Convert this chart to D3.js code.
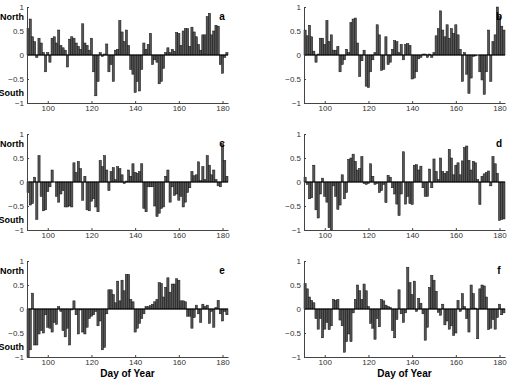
<!DOCTYPE html>
<html>
<head>
<meta charset="utf-8">
<script src="https://cdn.jsdelivr.net/npm/d3@7"></script>
<style>
  body { margin: 0; background: #fff; }
  svg { display: block; font-family: "Liberation Sans", Arial, sans-serif; }
  .tick text { fill: #333; font-size: 8px; }
  .domain, .tick line { stroke: #444; }
</style>
</head>
<body>
<div class="chart-container"></div>
<script>
// day of year 91..182
const days = d3.range(91, 183);

const seriesA = [0.55, 0.75, 0.38, 0.28, -0.05, 0.35, 0.25, 0.05, -0.35, 0.05,
  -0.15, 0.35, 0.38, 0.25, 0.52, 0.2, 0.15, 0.1, -0.25, 0.33,
  0.38, 0.35, 0.25, 0.18, 0.12, 0.65, 0.25, 0.2, 0.1, 0.35,
  -0.35, -0.85, -0.55, 0.05, -0.03, 0.02, 0.23, -0.35, -0.2, -0.55,
  0.1, 0.12, 0.72, 0.48, 0.28, 0.52, 0.2, -0.3, -0.4, -0.78,
  -0.55, -0.75, -0.3, 0.25, 0.12, 0.22, 0.45, -0.2, -0.1, -0.15,
  -0.6, -0.55, -0.28, 0.05, 0.15, 0.05, 0.12, 0.08, 0.47, 0.45,
  0.2, 0.5, 0.55, 0.55, 0.18, 0.58, 0.48, 0.38, 0.22, 0.1,
  0.42, 0.42, 0.8, 0.87, 0.42, 0.5, 0.62, 0.6, -0.2, -0.38,
  -0.05, 0.05];

const seriesB = [0.52, 0.4, 0.62, 0.38, 0.08, -0.15, 0.02, 0.35, 0.35, 0.22,
  0.72, 0.28, 0.42, 0.1, 0.1, 0.18, -0.35, -0.2, -0.1, 0.12,
  0.05, 0.68, 0.75, 0.77, 0.25, -0.45, -0.12, 0.1, -0.65, -0.68,
  -0.35, -0.1, 0.05, 0.63, 0.42, -0.32, -0.3, 0.38, -0.2, -0.15,
  0.12, 0.3, 0.28, 0.05, 0.22, -0.1, 0.22, 0.24, 0.2, -0.5,
  -0.48, -0.35, -0.08, -0.05, 0.02, 0.02, -0.05, 0.02, -0.05, 0.05,
  0.4, 0.55, 0.92, 0.52, 0.38, 0.63, 0.35, 0.55, 0.45, 0.63,
  0.42, 0.12, -0.55, 0.05, -0.4, -0.8, -0.48, -0.03, -0.02, 0,
  -0.35, -0.52, -0.82, -0.35, 0.52, -0.55, 0.28, 0.42, 1.0, 0.8,
  0.6, 0.52];

const seriesC = [-0.22, -0.48, -0.45, 0.1, -0.78, 0.55, -0.3, -0.6, -0.58, -0.2,
  -0.1, 0.25, 0, -0.3, -0.42, -0.25, -0.18, -0.52, -0.52, -0.5,
  -0.52, 0.4, 0.2, 0.43, 0.28, -0.38, 0.12, -0.58, -0.6, -0.4,
  -0.35, -0.52, -0.62, 0.45, 0.32, 0.55, 0.25, -0.18, 0.22, 0.3,
  0.05, 0.32, 0.28, 0.15, -0.03, 0.02, 0.25, 0.12, 0.38, 0.2,
  0.18, 0.22, 0.38, -0.55, -0.62, -0.1, -0.1, -0.1, -0.5, -0.72,
  -0.65, -0.55, -0.52, 0.12, 0.25, -0.42, -0.1, -0.28, -0.25, -0.38,
  -0.3, -0.52, -0.42, -0.22, -0.12, 0.22, 0.13, 0.15, 0.42, 0.03,
  0.32, 0.05, 0.55, 0.35, 0.15, 0.25, 0.05, -0.08, -0.1, 0.8,
  0.45, 0.12];

const seriesD = [0.1, -0.05, -0.35, -0.33, 0.35, -0.58, -0.75, -0.25, 0.08, -0.3,
  -0.42, -0.95, -1.0, -0.08, -0.3, -0.57, -0.48, 0.15, -0.35, -0.22,
  0.47, 0.5, 0.58, 0.43, 0.25, 0.28, 0.53, -0.03, -0.05, -0.03,
  0.38, 0.12, -0.05, -0.03, -0.22, -0.18, -0.05, -0.43, 0.14, 0.1,
  -0.12, -0.25, -0.46, -0.7, -0.25, 0.63, -0.46, -0.3, -0.45, -0.47,
  0.35, 0.36, 0.25, 0.33, -0.12, -0.3, -0.3, 0.27, -0.12, 0.48,
  0.22, 0.05, 0.5, 0.22, 0.18, 0.22, 0.68, 0.5, 0.15, 0.35,
  0.4, 0.15, 0.44, 0.72, 0.75, 0.45, 0.25, 0.43, 0.4, 0.05,
  -0.47, 0.12, 0.17, 0.2, 0.23, -0.08, 0.53, 0.38, 0.18, -0.8,
  -0.78, -0.77];

const seriesE = [-1.0, -0.85, 0.33, -0.75, -0.75, -0.52, -0.45, -0.5, -0.12, -0.38,
  -0.4, -0.48, -0.28, -0.32, 0.05, -0.05, -0.45, -0.58, -0.4, -0.75,
  -0.02, 0.17, -0.12, -0.52, -0.02, -0.48, -0.52, -0.38, -0.2, -0.15,
  -0.12, -0.05, -0.35, -0.25, -0.85, -0.8, -0.1, 0.4, 0.4, 0.3,
  0.13, 0.58, 0.17, 0.6, 0.38, 0.72, 0.72, 0.2, 0.15, -0.48,
  -0.4, -0.3, -0.2, -0.1, 0.05, 0.05, 0.07, 0.1, 0.15, 0.2,
  0.55, 0.53, 0.25, 0.45, 0.65, 0.35, 0.52, 0.52, 0.63, 0.6,
  0.17, 0.17, 0.15, -0.15, -0.15, -0.4, -0.18, 0.08, -0.1, -0.28,
  0.1, 0.05, 0.08, -0.3, -0.05, -0.38, 0.03, 0.18, -0.1, -0.25,
  -0.05, -0.12];

const seriesF = [0.53, 0.42, 0.25, 0.18, 0.13, -0.2, -0.42, -0.2, -0.6, -0.42,
  -0.28, -0.43, -0.35, 0.2, 0.18, 0.2, -0.23, -0.35, -0.9, -0.68,
  -0.52, -0.68, -0.08, 0.2, 0.5, 0.38, 0.2, 0.52, 0.38, 0.05,
  -0.3, -0.4, -0.63, -0.2, -0.37, 0.2, 0.17, 0.08, 0.05, 0.03,
  -0.45, -0.6, -0.22, 0.4, -0.1, -0.28, -0.08, 0.87, 0.55, 0.3,
  0.58, -0.05, 0.22, 0.12, -0.1, -0.65, -0.38, 0.45, 0.7, 0.6,
  0.37, -0.07, -0.13, 0.1, -0.33, -0.25, -0.42, -0.35, -0.55, -0.5,
  0.18, -0.05, 0.32, 0.05, -0.2, -0.48, 0.5, 0.32, 0.02, -0.62,
  0.42, 0.5, 0.48, 0.25, -0.43, -0.4, -0.22, -0.42, -0.18, 0.1,
  -0.12, -0.08];

const panelLetters = ["a", "b", "c", "d", "e", "f"];
const allSeries = [seriesA, seriesB, seriesC, seriesD, seriesE, seriesF];
const xTicks = [100, 120, 140, 160, 180];
const yTicks = [-1, -0.5, 0, 0.5, 1];

const W = 516, H = 379;
const colLeft = [27, 304];
const rowTop = [7, 134, 261];
const pw = 201, ph = 96;

const svg = d3.select(".chart-container")
  .append("svg")
  .attr("width", W)
  .attr("height", H);

const x = d3.scaleLinear().domain([90.5, 182.5]).range([0, pw]);
const y = d3.scaleLinear().domain([-1, 1]).range([ph, 0]);
const barW = x(1) - x(0);

allSeries.forEach((values, i) => {
  const col = i % 2, row = Math.floor(i / 2);
  const g = svg.append("g")
    .attr("transform", `translate(${colLeft[col]}, ${rowTop[row]})`);

  g.selectAll("rect")
    .data(days.map((d, k) => ({ day: d, v: values[k] })))
    .join("rect")
    .attr("x", d => x(d.day - 0.5))
    .attr("width", barW)
    .attr("y", d => y(Math.max(0, d.v)))
    .attr("height", d => Math.abs(y(d.v) - y(0)))
    .attr("fill", "#555")
    .attr("stroke", "#111")
    .attr("stroke-width", 0.5);

  // zero line
  g.append("line")
    .attr("x1", 0).attr("x2", pw)
    .attr("y1", y(0)).attr("y2", y(0))
    .attr("stroke", "#000")
    .attr("stroke-width", 1);

  const xAxis = d3.axisBottom(x)
    .tickValues(xTicks)
    .tickSizeInner(-2)
    .tickSizeOuter(0)
    .tickPadding(2);
  g.append("g")
    .attr("transform", `translate(0, ${ph})`)
    .call(xAxis);

  const yAxis = d3.axisLeft(y)
    .tickValues(yTicks)
    .tickSizeInner(-2)
    .tickSizeOuter(0)
    .tickPadding(3)
    .tickFormat(d => d3.format("")(d).replace("-", "\u2212"));
  g.append("g").call(yAxis);

  g.append("text")
    .attr("x", pw - 6)
    .attr("y", 13)
    .attr("text-anchor", "middle")
    .attr("font-size", 10)
    .attr("font-weight", "bold")
    .text(panelLetters[i]);

  if (col === 0) {
    g.append("text")
      .attr("x", -3)
      .attr("y", 13)
      .attr("text-anchor", "end")
      .attr("font-size", 9)
      .attr("font-weight", "bold")
      .text("North");
    g.append("text")
      .attr("x", -3)
      .attr("y", 89)
      .attr("text-anchor", "end")
      .attr("font-size", 9)
      .attr("font-weight", "bold")
      .text("South");
  }

  if (row === 2) {
    g.append("text")
      .attr("x", pw / 2)
      .attr("y", ph + 20)
      .attr("text-anchor", "middle")
      .attr("font-size", 10)
      .attr("font-weight", "bold")
      .text("Day of Year");
  }
});
</script>
</body>
</html>
